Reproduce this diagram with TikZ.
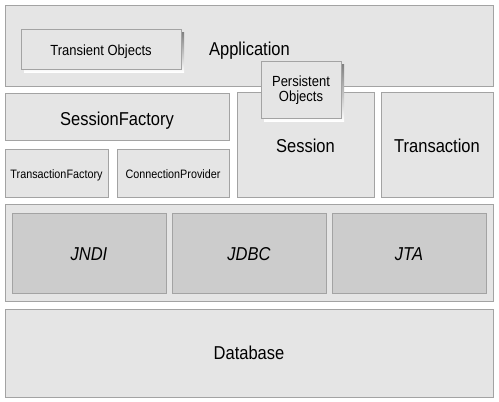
\documentclass[tikz,border=0pt]{standalone}
\usepackage{graphicx}
\usepackage{fontspec}
\setmainfont{Liberation Sans}
\definecolor{boxfill}{HTML}{E5E5E5}
\definecolor{darkfill}{HTML}{CCCCCC}
\definecolor{boxline}{HTML}{A3A3A3}
\definecolor{shade}{HTML}{707070}
\newcommand{\vst}[1]{\scalebox{1}[1.13]{#1}}
\begin{document}
\begin{tikzpicture}[x=1pt,y=-1pt,
  plain/.style={draw=boxline,fill=boxfill,line width=0.9pt},
  inner/.style={draw=boxline,fill=darkfill,line width=0.9pt},
  big/.style={font=\fontsize{16.5}{19}\selectfont},
  bigit/.style={font=\fontsize{16.5}{19}\selectfont\itshape},
  mid/.style={font=\fontsize{13}{14.5}\selectfont},
  small/.style={font=\fontsize{10.8}{12}\selectfont},
  lbl/.style={inner sep=0pt,anchor=base}]
\useasboundingbox (0,0) rectangle (499,402);
\fill[white] (0,0) rectangle (499,402);
% Application
\draw[plain] (5,5) rectangle (493,86);
\node[lbl,big] (app) at (249.5,55) {\vst{Application}};
% Transient Objects with shadow
\fill[shade] (24,32) rectangle (184,72);
\draw[plain] (21,29) rectangle (181,69);
\node[lbl,mid] (trans) at (101,55) {\vst{Transient Objects}};
% SessionFactory
\draw[plain] (5,93) rectangle (229,140);
\node[lbl,big] (sf) at (117,125) {\vst{SessionFactory}};
\draw[plain] (5,149) rectangle (108,197);
\node[lbl,small] (tf) at (56.5,178) {\vst{TransactionFactory}};
\draw[plain] (117,149) rectangle (229,197);
\node[lbl,small] (cp) at (173,178) {\vst{ConnectionProvider}};
% Session and Transaction
\draw[plain] (237,92) rectangle (374,197);
\node[lbl,big] (sess) at (305.5,152) {\vst{Session}};
\draw[plain] (381,92) rectangle (493,197);
\node[lbl,big] (tx) at (437,152) {\vst{Transaction}};
% Persistent Objects with shadow
\fill[shade] (264,64) rectangle (344,121);
\draw[plain] (261,61) rectangle (341,118);
\node[lbl,mid] (pers) at (301,86.5) {\vst{Persistent}};
\node[lbl,mid] (persb) at (301,101.5) {\vst{Objects}};
% API layer
\draw[plain] (5,204) rectangle (493,301);
\draw[inner] (12,213) rectangle (166,293);
\node[lbl,bigit] (jndi) at (89,260) {\vst{JNDI}};
\draw[inner] (172,213) rectangle (326,293);
\node[lbl,bigit] (jdbc) at (249,260) {\vst{JDBC}};
\draw[inner] (332,213) rectangle (486,293);
\node[lbl,bigit] (jta) at (409,260) {\vst{JTA}};
% Database
\draw[plain] (5,309) rectangle (493,397);
\node[lbl,big] (db) at (249,359.5) {\vst{Database}};
\end{tikzpicture}
\end{document}
